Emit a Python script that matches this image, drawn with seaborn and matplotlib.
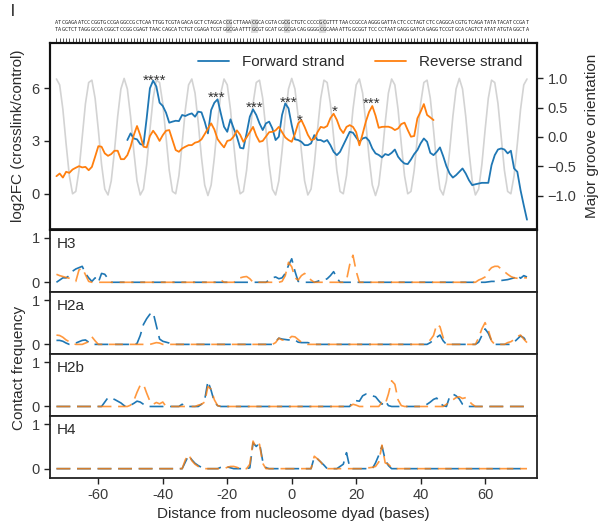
import numpy as np
import pandas as pd
import matplotlib
matplotlib.use("Agg")
import matplotlib.pyplot as plt
import seaborn as sns
from matplotlib.patches import Rectangle

# ---------------- data ----------------
positions = list(range(-73, 74))          # base positions relative to dyad
fwd_positions = list(range(-51, 74))
rev_positions = list(range(-73, 45))

groove = [
    0.99, 0.89, 0.47, -0.12, -0.66, -0.97, -0.93, -0.57, 0.00, 0.57,
    0.93, 0.97, 0.66, 0.12, -0.47, -0.89, -0.99, -0.75, -0.24, 0.35,
    0.82, 1.00, 0.82, 0.35, -0.24, -0.75, -0.99, -0.89, -0.47, 0.12,
    0.66, 0.97, 0.93, 0.57, 0.00, -0.57, -0.93, -0.97, -0.66, -0.12,
    0.47, 0.89, 0.99, 0.75, 0.24, -0.35, -0.82, -1.00, -0.82, -0.35,
    0.24, 0.75, 0.99, 0.89, 0.47, -0.12, -0.66, -0.97, -0.93, -0.57,
    0.00, 0.57, 0.93, 0.97, 0.66, 0.12, -0.47, -0.89, -0.99, -0.75,
    -0.24, 0.35, 0.82, 1.00, 0.82, 0.35, -0.24, -0.75, -0.99, -0.89,
    -0.47, 0.12, 0.66, 0.97, 0.93, 0.57, 0.00, -0.57, -0.93, -0.97,
    -0.66, -0.12, 0.47, 0.89, 0.99, 0.75, 0.24, -0.35, -0.82, -1.00,
    -0.82, -0.35, 0.24, 0.75, 0.99, 0.89, 0.47, -0.12, -0.66, -0.97,
    -0.93, -0.57, 0.00, 0.57, 0.93, 0.97, 0.66, 0.12, -0.47, -0.89,
    -0.99, -0.75, -0.24, 0.35, 0.82, 1.00, 0.82, 0.35, -0.24, -0.75,
    -0.99, -0.89, -0.47, 0.12, 0.66, 0.97, 0.93, 0.57, 0.00, -0.57,
    -0.93, -0.97, -0.66, -0.12, 0.47, 0.89, 0.99,
]

forward = [
    3.05, 3.43, 3.14, 3.09, 2.82, 2.76, 4.3, 6.0, 6.44, 6.1,
    5.18, 4.99, 4.61, 4.04, 4.1, 4.15, 4.13, 4.48, 4.42, 4.51,
    4.57, 4.38, 4.67, 4.63, 4.1, 3.43, 4.76, 5.18, 5.37, 4.57,
    3.81, 3.52, 4.23, 3.71, 3.24, 2.61, 2.57, 3.43, 4.38, 4.8,
    4.48, 4.0, 3.62, 4.0, 4.1, 3.71, 3.05, 3.24, 4.48, 5.14,
    4.86, 3.9, 3.09, 3.05, 2.95, 2.76, 2.76, 2.86, 3.33, 3.05,
    3.05, 2.95, 3.05, 2.76, 2.38, 2.19, 2.38, 2.76, 3.14, 3.52,
    3.47, 3.2, 2.95, 3.14, 3.2, 3.01, 2.57, 2.29, 2.2, 2.06,
    2.25, 2.19, 2.32, 2.51, 2.1, 1.87, 1.71, 1.68, 1.94, 2.25,
    2.48, 2.86, 3.14, 2.95, 2.32, 2.19, 2.38, 2.63, 2.13, 1.56,
    1.14, 0.91, 1.05, 1.24, 1.43, 1.14, 0.76, 0.48, 0.53, 0.57,
    0.61, 0.61, 0.61, 1.62, 2.19, 2.51, 2.57, 2.51, 2.29, 2.44,
    1.43, 1.24, 0.19, -0.67, -1.49,
]

reverse = [
    0.99, 1.14, 0.91, 1.24, 1.18, 1.37, 1.47, 1.56, 1.49, 1.52,
    1.33, 1.52, 2.10, 2.70, 2.67, 2.29, 2.15, 2.25, 2.44, 2.44,
    1.96, 1.96, 2.19, 2.67, 3.33, 3.85, 3.33, 2.67, 2.63, 3.28,
    3.58, 3.33, 3.0, 3.33, 3.58, 3.62, 3.05, 2.48, 2.38, 2.57,
    2.67, 2.76, 2.76, 2.9, 2.95, 3.09, 3.39, 3.7, 4.0, 3.65,
    3.1, 2.85, 2.63, 3.0, 3.05, 3.25, 3.6, 3.35, 2.95, 3.2,
    3.5, 3.8, 3.3, 2.95, 3.0, 3.25, 3.5, 3.52, 3.6, 3.8,
    3.5, 3.2, 3.05, 2.95, 3.4, 4.0, 4.19, 3.8, 3.35, 3.05,
    3.1, 3.5, 3.8, 3.75, 3.85, 4.3, 4.55, 4.2, 3.7, 3.45,
    3.8, 3.9, 3.8, 3.5, 2.75, 3.4, 4.1, 4.65, 4.99, 4.45,
    3.75, 3.8, 3.81, 3.81, 3.75, 3.62, 3.71, 3.96, 4.04, 3.62,
    3.24, 3.28, 4.29, 4.67, 5.1, 4.48, 4.34, 4.19,
]

star_labels = ["****", "***", "***", "***", "*", "*", "***"]
star_x = [-42.6, -23.2, -11.4, -1.05, 2.6, 13.2, 24.8]
star_y = [6.7, 5.71, 5.18, 5.43, 4.42, 4.91, 5.37]

h3_fwd = [
    0.0, 0.05, 0.1, 0.1, 0.15, 0.25, 0.3, 0.33, 0.36, 0.2,
    0.1, 0.02, 0.1, 0.0, 0.2, 0.18, 0.08, 0, 0, 0,
    0, 0, 0, 0, 0, 0, 0, 0, 0, 0,
    0, 0, 0, 0, 0, 0, 0, 0, 0, 0,
    0, 0, 0, 0, 0, 0, 0, 0, 0, 0,
    0, 0, 0, 0, 0, 0, 0, 0, 0, 0,
    0, 0, 0, 0, 0, 0, 0.05, 0.1, 0.12, 0.08,
    0.1, 0.2, 0.38, 0.53, 0.25, 0.02, 0.02, 0, 0, 0,
    0, 0.02, 0.05, 0.05, 0.08, 0.15, 0.24, 0.1, 0, 0,
    0, 0, 0, 0, 0, 0, 0, 0, 0, 0,
    0, 0, 0, 0, 0, 0, 0, 0, 0, 0,
    0, 0, 0, 0, 0, 0, 0, 0, 0, 0,
    0, 0, 0, 0, 0, 0, 0, 0, 0, 0,
    0, 0, 0, 0, 0.01, 0.02, 0.02, 0.03, 0.04, 0.05,
    0.06, 0.08, 0.1, 0.17, 0.09, 0.15, 0.12,
]
h3_rev = [
    0.18, 0.15, 0.13, 0.11, 0.09, 0.05, 0.02, 0.28, 0.32, 0.17,
    0.02, 0, 0, 0, 0, 0, 0, 0, 0, 0,
    0, 0, 0, 0, 0, 0, 0, 0, 0, 0,
    0, 0, 0, 0, 0, 0, 0, 0, 0, 0,
    0, 0, 0, 0, 0, 0, 0, 0, 0, 0,
    0, 0.05, 0, 0, 0, 0, 0.05, 0.1, 0.12, 0.13,
    0.08, 0, 0, 0, 0, 0, 0, 0, 0, 0,
    0.02, 0.15, 0.45, 0.35, 0.1, 0.05, 0.15, 0.2, 0.13, 0.05,
    0, 0, 0, 0, 0, 0, 0, 0, 0, 0,
    0.05, 0.4, 0.61, 0.25, 0, 0, 0, 0, 0, 0,
    0, 0, 0, 0, 0, 0, 0, 0, 0, 0,
    0, 0, 0, 0, 0, 0, 0, 0, 0, 0,
    0, 0, 0, 0, 0, 0, 0, 0, 0, 0,
    0, 0.05, 0.08, 0.12, 0.25, 0.33, 0.36, 0.36, 0.3, 0.24,
    0.18, 0.13, 0.1, 0.09, 0.08, 0.1, 0.1,
]
h2a_fwd = [
    0.09, 0.09, 0.07, 0.03, 0, 0, 0.03, 0.06, 0.09, 0.1,
    0.05, 0, 0, 0, 0, 0, 0, 0, 0, 0,
    0, 0, 0, 0, 0, 0.02, 0.2, 0.45, 0.58, 0.68,
    0.72, 0.42, 0.12, 0.07, 0.05, 0.03, 0, 0, 0, 0,
    0, 0, 0, 0, 0, 0, 0, 0, 0, 0,
    0, 0, 0, 0, 0, 0, 0, 0, 0, 0,
    0, 0, 0, 0, 0, 0, 0, 0, 0.06, 0.14,
    0.12, 0.11, 0.1, 0.11, 0.1, 0.05, 0.04, 0.04, 0.04, 0.02,
    0, 0, 0, 0, 0, 0, 0, 0, 0, 0,
    0, 0, 0, 0, 0, 0, 0, 0, 0, 0,
    0, 0, 0, 0, 0, 0, 0, 0, 0, 0,
    0, 0, 0, 0, 0, 0, 0.04, 0.1, 0.16, 0.21,
    0.08, 0, 0, 0, 0, 0, 0, 0, 0, 0,
    0, 0.05, 0.2, 0.35, 0.25, 0.08, 0, 0, 0, 0,
    0, 0, 0.05, 0.12, 0.19, 0.15, 0.05,
]
h2a_rev = [
    0.21, 0.2, 0.16, 0.1, 0.06, 0.02, 0, 0, 0, 0.03,
    0.06, 0.17, 0.08, 0, 0, 0, 0, 0, 0, 0,
    0, 0, 0, 0, 0, 0, 0, 0, 0, 0,
    0.02, 0.04, 0.03, 0, 0, 0, 0, 0, 0, 0,
    0, 0, 0, 0, 0, 0, 0, 0, 0, 0,
    0, 0, 0, 0, 0, 0, 0, 0, 0, 0,
    0, 0, 0, 0, 0, 0, 0, 0, 0.04, 0.14,
    0.1, 0.09, 0.12, 0.18, 0.17, 0.11, 0.05, 0.02, 0, 0,
    0, 0, 0, 0, 0, 0, 0, 0, 0, 0,
    0, 0, 0, 0, 0, 0, 0, 0, 0, 0,
    0, 0, 0, 0, 0, 0, 0, 0, 0, 0,
    0, 0, 0, 0, 0, 0.04, 0.1, 0.2, 0.45, 0.4,
    0.15, 0, 0, 0, 0, 0, 0, 0, 0, 0,
    0, 0.15, 0.35, 0.49, 0.32, 0.08, 0, 0, 0, 0,
    0.04, 0.06, 0.11, 0.18, 0.21, 0.12, 0.04,
]
h2b_fwd = [
    0, 0, 0, 0, 0, 0, 0, 0, 0, 0,
    0, 0, 0, 0, 0, 0.1, 0.2, 0.18, 0.16, 0.12,
    0.08, 0.02, 0, 0.03, 0.07, 0.12, 0.1, 0.05, 0, 0,
    0, 0, 0, 0, 0, 0, 0, 0, 0, 0.05,
    0, 0, 0, 0, 0, 0.05, 0.15, 0.57, 0.36, 0.1,
    0.02, 0, 0, 0, 0, 0, 0, 0, 0, 0,
    0, 0, 0, 0, 0, 0, 0, 0, 0, 0,
    0, 0, 0, 0, 0, 0, 0, 0, 0, 0,
    0, 0, 0, 0, 0, 0, 0, 0, 0, 0,
    0, 0, 0.12, 0.13, 0.12, 0.24, 0.28, 0.25, 0.24, 0.22,
    0.13, 0.05, 0.13, 0.02, 0, 0, 0, 0, 0, 0,
    0, 0, 0, 0, 0.03, 0.05, 0.1, 0.16, 0.19, 0.07,
    0.02, 0, 0.22, 0.28, 0.24, 0.17, 0.05, 0, 0, 0,
    0, 0, 0, 0, 0, 0, 0, 0, 0, 0,
    0, 0, 0, 0, 0, 0, 0,
]
h2b_rev = [
    0, 0, 0, 0, 0, 0, 0, 0, 0, 0,
    0, 0, 0, 0, 0, 0, 0, 0, 0, 0,
    0, 0, 0, 0.03, 0.13, 0.32, 0.48, 0.5, 0.3, 0.12,
    0.05, 0.09, 0.06, 0.1, 0, 0, 0, 0, 0, 0,
    0, 0, 0, 0, 0.03, 0.05, 0.1, 0.45, 0.39, 0.15,
    0.02, 0, 0, 0, 0, 0, 0, 0, 0, 0,
    0, 0, 0, 0, 0, 0, 0, 0, 0, 0,
    0, 0, 0, 0, 0, 0, 0, 0, 0, 0,
    0, 0, 0, 0, 0, 0, 0, 0, 0, 0,
    0, 0, 0.05, 0.03, 0, 0, 0, 0, 0, 0,
    0, 0.09, 0.05, 0.28, 0.58, 0.5, 0.15, 0.02, 0, 0,
    0, 0, 0, 0, 0, 0, 0, 0, 0, 0,
    0, 0.05, 0.1, 0.15, 0.2, 0.22, 0.18, 0.2, 0.12, 0.05,
    0, 0, 0, 0, 0, 0, 0, 0, 0, 0,
    0, 0, 0, 0, 0, 0, 0,
]
h4_fwd = [
    0, 0, 0, 0, 0, 0, 0, 0, 0, 0,
    0, 0, 0, 0, 0, 0, 0, 0, 0, 0,
    0, 0, 0, 0, 0, 0, 0, 0, 0, 0,
    0, 0, 0, 0, 0, 0, 0, 0, 0, 0,
    0.15, 0.3, 0.2, 0.12, 0.07, 0.03, 0, 0, 0, 0,
    0, 0.03, 0.05, 0.04, 0.02, 0, 0, 0, 0, 0,
    0.02, 0.58, 0.5, 0.58, 0.17, 0.02, 0, 0, 0, 0,
    0, 0, 0, 0, 0, 0, 0, 0, 0, 0,
    0.26, 0.22, 0.15, 0.08, 0, 0, 0, 0, 0.05, 0.1,
    0.36, 0.03, 0, 0, 0, 0, 0, 0, 0, 0.13,
    0.3, 0.51, 0.2, 0.07, 0, 0, 0, 0, 0, 0,
    0, 0, 0, 0, 0, 0, 0, 0, 0, 0,
    0, 0, 0, 0, 0, 0, 0, 0, 0, 0,
    0, 0, 0, 0, 0, 0, 0, 0, 0, 0,
    0, 0, 0, 0, 0, 0, 0,
]
h4_rev = [
    0, 0, 0, 0, 0, 0, 0, 0, 0, 0,
    0, 0, 0, 0, 0, 0, 0, 0, 0, 0,
    0, 0, 0, 0, 0, 0, 0, 0, 0, 0,
    0, 0, 0, 0, 0, 0, 0, 0, 0, 0,
    0.2, 0.32, 0.18, 0.1, 0.05, 0.02, 0, 0, 0, 0,
    0, 0, 0, 0.03, 0.05, 0.05, 0.03, 0, 0, 0,
    0.1, 0.62, 0.47, 0.55, 0.12, 0, 0, 0, 0, 0,
    0, 0, 0, 0, 0, 0, 0, 0, 0, 0,
    0.28, 0.22, 0.15, 0.05, 0, 0, 0, 0, 0, 0,
    0, 0, 0, 0, 0, 0, 0.03, 0.02, 0.03, 0.05,
    0.15, 0.53, 0.13, 0.1, 0.02, 0, 0, 0, 0, 0,
    0, 0, 0, 0, 0, 0, 0, 0, 0, 0,
    0, 0, 0, 0, 0, 0, 0, 0, 0, 0,
    0, 0, 0, 0, 0, 0, 0, 0, 0, 0,
    0, 0, 0, 0, 0, 0, 0,
]
panel_names = ["H3", "H2a", "H2b", "H4"]
panel_fwd = [h3_fwd, h2a_fwd, h2b_fwd, h4_fwd]
panel_rev = [h3_rev, h2a_rev, h2b_rev, h4_rev]

seq_top = ("ATCGAGAATCCCGGTGCCGAGGCCGCTCAATTGGTCGTAGACAGCTCTAGCACCGCTTAAACGCACGTACGCG"
           "CTGTCCCCCGCGTTTTAACCGCCAAGGGGATTACTCCCTAGTCTCCAGGCACGTGTCAGATATATACATCCGAT")
seq_bottom = seq_top.translate(str.maketrans("ACGT", "TGCA"))
highlight_starts = [-20, -12, -2, 9]

x_tick_vals = [-60, -40, -20, 0, 20, 40, 60]
x_tick_labels = ["-60", "-40", "-20", "0", "20", "40", "60"]
left_ticks = [0, 3, 6]
right_ticks = [-1.0, -0.5, 0.0, 0.5, 1.0]
right_tick_labels = ["\u22121.0", "\u22120.5", "0.0", "0.5", "1.0"]

# ---------------- style ----------------
sns.set_theme(style="ticks")
plt.rcParams['font.family'] = ['Liberation Sans', 'DejaVu Sans']
plt.rcParams['lines.scale_dashes'] = False

BLUE = "#1f77b4"
ORANGE = "#ff7f0e"
TXT = "#2b2b2b"
TICKC = "#3a3a3a"

W, H = 598, 522
fig = plt.figure(figsize=(W / 100, H / 100), dpi=100)


def rect(l, t, r, b):
    return [l / W, 1 - b / H, (r - l) / W, (b - t) / H]


L, R = 50, 537.3
XLIM = (-75, 76.2)
edges = [229.5, 291.6, 353.7, 415.8, 478]

# ---------------- main panel ----------------
ax = fig.add_axes(rect(L, 42.7, R, edges[0]))
ax2 = ax.twinx()
sns.lineplot(x=positions, y=groove, ax=ax2, color="#d3d3d3", lw=1.2)
sns.lineplot(x=fwd_positions, y=forward, ax=ax, color=BLUE, lw=1.3, label="Forward strand")
sns.lineplot(x=rev_positions, y=reverse, ax=ax, color=ORANGE, lw=1.3, label="Reverse strand")
ax.set_zorder(ax2.get_zorder() + 1)
ax.patch.set_visible(False)

ax.set_xlim(*XLIM)
ax.set_ylim(-2.05, 8.6)
ax2.set_ylim(-1.58, 1.61)
ax.set_xticks(positions)
ax.tick_params(axis="x", which="both", bottom=False, top=True, labelbottom=False,
               labeltop=False, length=3.5, width=0.6, color="#333333", direction="out")
ax.set_yticks(left_ticks)
ax.set_yticklabels([str(t) for t in left_ticks])
ax.tick_params(axis="y", length=4, width=1.0, labelsize=10.5, labelcolor=TICKC, color="#222222")
ax2.set_yticks(right_ticks)
ax2.set_yticklabels(right_tick_labels)
ax2.tick_params(axis="y", length=4, width=1.0, labelsize=10.5, labelcolor=TICKC, color="#222222")
ax.set_xlabel("")
ax.set_ylabel("log2FC (crosslink/control)", fontsize=11, color=TXT)
ax.yaxis.set_label_coords(-0.052, 0.5)
ax2.set_ylabel("Major groove orientation", fontsize=11, color=TXT)
ax2.yaxis.set_label_coords(1.098, 0.5)
for a in (ax, ax2):
    for s in a.spines.values():
        s.set_color("#111111")
        s.set_linewidth(1.5)

for s, xx, yy in zip(star_labels, star_x, star_y):
    ax.text(xx, yy - 0.5, s, ha="center", va="baseline", fontsize=11, color="#333333")

leg = ax.legend(loc="upper right", bbox_to_anchor=(0.981, 0.966), ncol=2, frameon=False,
                fontsize=11, handlelength=2.0, columnspacing=2.0, handletextpad=0.85,
                borderaxespad=0)
for t in leg.get_texts():
    t.set_color(TXT)

# sequence above the ruler: one character per base, monospaced so that letters just touch
trans = ax.get_xaxis_transform()
char_px = (ax.transData.transform((1, 0))[0] - ax.transData.transform((0, 0))[0])
seq_fs = char_px / 0.62 * 72.0 / fig.dpi
for hs in highlight_starts:
    ax.add_patch(Rectangle((hs - 0.5, 1.052), 2.0, 0.075, transform=trans,
                           facecolor="#dcdcdc", edgecolor="none", clip_on=False, zorder=0))
for i, (c1, c2) in enumerate(zip(seq_top, seq_bottom)):
    xpos = positions[i]
    ax.text(xpos, 1.107, c1, transform=trans, ha="center", va="center",
            fontsize=seq_fs, color="#222222", family="DejaVu Sans Mono", clip_on=False)
    ax.text(xpos, 1.068, c2, transform=trans, ha="center", va="center",
            fontsize=seq_fs, color="#222222", family="DejaVu Sans Mono", clip_on=False)

# ---------------- contact panels ----------------
for i, (name, fv, rv) in enumerate(zip(panel_names, panel_fwd, panel_rev)):
    a = fig.add_axes(rect(L, edges[i], R, edges[i + 1]))
    sns.lineplot(x=positions, y=fv, ax=a, color=BLUE, lw=1.2, linestyle=(0, (10, 4.8)))
    sns.lineplot(x=positions, y=rv, ax=a, color=ORANGE, lw=1.2, alpha=0.8,
                 linestyle=(0, (10, 4.8)))
    a.set_xlim(*XLIM)
    a.set_ylim(-0.21, 1.19)
    a.set_yticks([0, 1])
    a.set_yticklabels(["0", "1"])
    a.tick_params(axis="y", length=4, width=1.0, labelsize=10.5, labelcolor=TICKC, color="#222222")
    a.set_ylabel("")
    a.text(0.014, 0.77, name, transform=a.transAxes, ha="left", va="center",
           fontsize=11, color=TXT)
    for s in a.spines.values():
        s.set_color("#222222")
        s.set_linewidth(1.3)
    if i < 3:
        a.tick_params(axis="x", bottom=False, labelbottom=False)
        a.set_xlabel("")
    else:
        a.set_xticks(x_tick_vals)
        a.set_xticklabels(x_tick_labels)
        a.tick_params(axis="x", length=4, width=1.0, labelsize=10.5, labelcolor=TICKC,
                      color="#222222")
        a.set_xlabel("Distance from nucleosome dyad (bases)", fontsize=11, color=TXT,
                      labelpad=3)

fig.text(19 / W, 1 - 368 / H, "Contact frequency", rotation=90, ha="center", va="center",
         fontsize=11, color=TXT)
fig.text(13 / W, 1 - 11 / H, "l", ha="center", va="center", fontsize=12, color="#222222")

fig.savefig("out.png", dpi=100)
